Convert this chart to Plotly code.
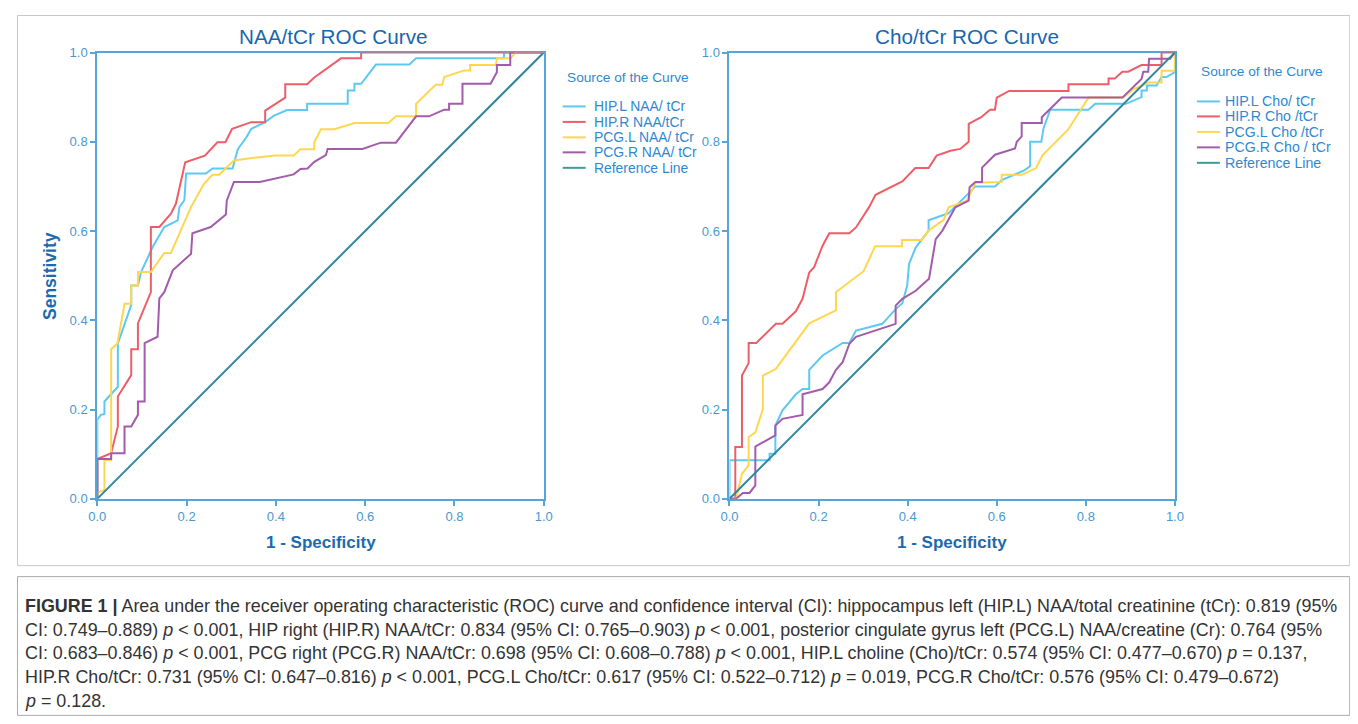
import plotly.graph_objects as go

W, H = 1358, 724
# observed page placement of the figure in the photographed window (affine): screen = S*fig + B
SX, BX = 0.988, 15.6
SY, BY = 0.981, 14.4

# ---------------- data (1 - specificity, sensitivity) ----------------
naa_names = ["HIP.L NAA/ tCr", "HIP.R NAA/tCr", "PCG.L NAA/ tCr", "PCG.R NAA/ tCr"]
cho_names = ["HIP.L Cho/ tCr", "HIP.R Cho /tCr", "PCG.L Cho /tCr", "PCG.R Cho / tCr"]

naa_hipl_x = [0, 0, 0.008, 0.016, 0.016, 0.046, 0.046, 0.076, 0.076, 0.091, 0.098, 0.124, 0.150, 0.180, 0.184, 0.195, 0.199, 0.243, 0.258, 0.303, 0.315, 0.334, 0.345, 0.376, 0.395, 0.425, 0.470, 0.470, 0.561, 0.561, 0.576, 0.576, 0.591, 0.613, 0.624, 0.699, 0.714, 0.911, 0.911, 1.0]
naa_hipl_y = [0, 0.177, 0.188, 0.190, 0.218, 0.251, 0.348, 0.434, 0.478, 0.478, 0.508, 0.564, 0.609, 0.624, 0.654, 0.669, 0.729, 0.729, 0.740, 0.740, 0.784, 0.810, 0.829, 0.844, 0.858, 0.871, 0.871, 0.885, 0.885, 0.915, 0.915, 0.930, 0.930, 0.960, 0.973, 0.973, 0.987, 0.987, 1.0, 1.0]

naa_hipr_x = [0, 0, 0.031, 0.046, 0.046, 0.076, 0.076, 0.091, 0.091, 0.120, 0.120, 0.139, 0.165, 0.176, 0.197, 0.241, 0.269, 0.287, 0.302, 0.345, 0.376, 0.376, 0.421, 0.421, 0.470, 0.486, 0.546, 0.591, 0.591, 1.0]
naa_hipr_y = [0, 0.089, 0.102, 0.162, 0.229, 0.277, 0.335, 0.335, 0.393, 0.463, 0.609, 0.609, 0.639, 0.661, 0.754, 0.769, 0.799, 0.799, 0.829, 0.844, 0.844, 0.870, 0.899, 0.929, 0.929, 0.944, 0.987, 0.987, 1.0, 1.0]

naa_pcgl_x = [0, 0, 0.016, 0.016, 0.031, 0.031, 0.045, 0.061, 0.076, 0.076, 0.091, 0.091, 0.120, 0.150, 0.165, 0.210, 0.239, 0.258, 0.273, 0.306, 0.358, 0.399, 0.440, 0.455, 0.486, 0.486, 0.501, 0.531, 0.576, 0.652, 0.669, 0.714, 0.714, 0.758, 0.773, 0.777, 0.822, 0.835, 0.835, 0.893, 0.895, 0.926, 0.937, 1.0]
naa_pcgl_y = [0, 0.013, 0.020, 0.087, 0.087, 0.335, 0.348, 0.437, 0.437, 0.478, 0.478, 0.508, 0.508, 0.551, 0.551, 0.654, 0.706, 0.726, 0.726, 0.758, 0.765, 0.769, 0.769, 0.783, 0.783, 0.799, 0.828, 0.828, 0.842, 0.842, 0.857, 0.857, 0.885, 0.928, 0.928, 0.945, 0.960, 0.960, 0.972, 0.972, 0.987, 0.987, 1.0, 1.0]

naa_pcgr_x = [0, 0, 0.031, 0.031, 0.061, 0.061, 0.076, 0.091, 0.091, 0.106, 0.106, 0.135, 0.139, 0.150, 0.169, 0.210, 0.213, 0.254, 0.288, 0.290, 0.306, 0.364, 0.440, 0.455, 0.471, 0.486, 0.512, 0.516, 0.594, 0.635, 0.669, 0.680, 0.714, 0.743, 0.777, 0.788, 0.788, 0.818, 0.818, 0.881, 0.895, 0.895, 0.925, 0.925, 1.0]
naa_pcgr_y = [0, 0.089, 0.089, 0.102, 0.102, 0.162, 0.162, 0.188, 0.218, 0.218, 0.349, 0.363, 0.449, 0.463, 0.512, 0.549, 0.595, 0.609, 0.637, 0.668, 0.710, 0.710, 0.727, 0.739, 0.740, 0.755, 0.770, 0.784, 0.784, 0.798, 0.798, 0.813, 0.857, 0.857, 0.872, 0.872, 0.885, 0.885, 0.930, 0.930, 0.956, 0.972, 0.972, 1.0, 1.0]

cho_hipl_x = [0, 0, 0.090, 0.090, 0.103, 0.103, 0.119, 0.149, 0.164, 0.179, 0.179, 0.209, 0.254, 0.269, 0.284, 0.343, 0.373, 0.388, 0.399, 0.403, 0.418, 0.447, 0.447, 0.492, 0.552, 0.596, 0.611, 0.660, 0.675, 0.675, 0.700, 0.705, 0.720, 0.806, 0.821, 0.890, 0.925, 0.925, 0.937, 0.937, 0.959, 0.970, 0.981, 1.0, 1.0]
cho_hipl_y = [0, 0.086, 0.086, 0.101, 0.101, 0.164, 0.198, 0.234, 0.246, 0.246, 0.289, 0.321, 0.349, 0.349, 0.377, 0.392, 0.425, 0.438, 0.478, 0.526, 0.563, 0.601, 0.624, 0.640, 0.700, 0.700, 0.714, 0.735, 0.745, 0.800, 0.800, 0.830, 0.872, 0.872, 0.885, 0.885, 0.900, 0.915, 0.915, 0.926, 0.926, 0.945, 0.945, 0.956, 1.0]

cho_hipr_x = [0, 0.013, 0.013, 0.028, 0.028, 0.043, 0.043, 0.060, 0.104, 0.119, 0.149, 0.164, 0.179, 0.190, 0.209, 0.224, 0.269, 0.284, 0.313, 0.328, 0.388, 0.417, 0.447, 0.465, 0.496, 0.518, 0.537, 0.537, 0.565, 0.585, 0.596, 0.600, 0.628, 0.761, 0.761, 0.851, 0.851, 0.865, 0.882, 0.895, 0.925, 0.970, 0.970, 1.0]
cho_hipr_y = [0, 0, 0.116, 0.116, 0.276, 0.304, 0.349, 0.349, 0.392, 0.392, 0.420, 0.448, 0.507, 0.519, 0.567, 0.595, 0.595, 0.608, 0.653, 0.681, 0.711, 0.741, 0.741, 0.769, 0.780, 0.784, 0.800, 0.840, 0.855, 0.872, 0.872, 0.899, 0.914, 0.914, 0.929, 0.929, 0.942, 0.942, 0.957, 0.957, 0.972, 0.972, 1.0, 1.0]

cho_pcgl_x = [0, 0.015, 0.028, 0.043, 0.043, 0.058, 0.075, 0.075, 0.104, 0.179, 0.239, 0.239, 0.301, 0.327, 0.387, 0.387, 0.432, 0.447, 0.481, 0.492, 0.533, 0.552, 0.611, 0.611, 0.656, 0.688, 0.703, 0.731, 0.760, 0.785, 0.806, 0.884, 0.907, 0.925, 0.940, 0.970, 0.970, 1.0, 1.0]
cho_pcgl_y = [0, 0, 0.056, 0.075, 0.138, 0.149, 0.201, 0.276, 0.291, 0.393, 0.422, 0.463, 0.510, 0.566, 0.566, 0.580, 0.580, 0.601, 0.625, 0.653, 0.668, 0.708, 0.710, 0.726, 0.726, 0.741, 0.770, 0.799, 0.827, 0.866, 0.899, 0.899, 0.918, 0.925, 0.933, 0.933, 0.959, 0.959, 1.0]

cho_pcgr_x = [0, 0.015, 0.030, 0.045, 0.058, 0.058, 0.103, 0.103, 0.119, 0.164, 0.164, 0.209, 0.224, 0.239, 0.254, 0.269, 0.284, 0.373, 0.373, 0.388, 0.418, 0.448, 0.463, 0.478, 0.507, 0.537, 0.539, 0.552, 0.567, 0.567, 0.596, 0.641, 0.645, 0.656, 0.656, 0.701, 0.701, 0.720, 0.746, 0.882, 0.925, 0.929, 0.940, 0.942, 0.989, 1.0]
cho_pcgr_y = [0, 0, 0.013, 0.013, 0.030, 0.117, 0.142, 0.164, 0.179, 0.188, 0.234, 0.246, 0.261, 0.289, 0.306, 0.347, 0.363, 0.392, 0.433, 0.448, 0.466, 0.493, 0.582, 0.601, 0.653, 0.668, 0.698, 0.710, 0.710, 0.742, 0.771, 0.785, 0.800, 0.812, 0.842, 0.842, 0.855, 0.873, 0.899, 0.899, 0.941, 0.957, 0.957, 0.986, 0.986, 1.0]

ref_x = [0, 1]
ref_y = [0, 1]

tick_vals = [0, 0.2, 0.4, 0.6, 0.8, 1.0]
tick_text = ["0.0", "0.2", "0.4", "0.6", "0.8", "1.0"]

caption_lines = [
    "<b>FIGURE 1 |</b> Area under the receiver operating characteristic (ROC) curve and confidence interval (CI): hippocampus left (HIP.L) NAA/total creatinine (tCr): 0.819 (95%",
    "CI: 0.749–0.889) <i>p</i> &lt; 0.001, HIP right (HIP.R) NAA/tCr: 0.834 (95% CI: 0.765–0.903) <i>p</i> &lt; 0.001, posterior cingulate gyrus left (PCG.L) NAA/creatine (Cr): 0.764 (95%",
    "CI: 0.683–0.846) <i>p</i> &lt; 0.001, PCG right (PCG.R) NAA/tCr: 0.698 (95% CI: 0.608–0.788) <i>p</i> &lt; 0.001, HIP.L choline (Cho)/tCr: 0.574 (95% CI: 0.477–0.670) <i>p</i> = 0.137,",
    "HIP.R Cho/tCr: 0.731 (95% CI: 0.647–0.816) <i>p</i> &lt; 0.001, PCG.L Cho/tCr: 0.617 (95% CI: 0.522–0.712) <i>p</i> = 0.019, PCG.R Cho/tCr: 0.576 (95% CI: 0.479–0.672)",
    "<i>p</i> = 0.128.",
]

# ---------------- styles ----------------
colors = ["#5CC9F2", "#EE5E69", "#FFD64F", "#A35CAB"]
ref_color = "#2F86A0"
axis_color = "#55A5D8"
tick_color = "#4A98CF"
title_color = "#1766B0"
legend_color = "#2F88D2"
axis_title_color = "#1C6AAE"
font_main = "Liberation Sans, Arial, sans-serif"


def px(x):
    return max(0.0, (x - BX) / SX) / W


def py(y):
    return 1 - max(0.0, (y - BY) / SY) / H


fig = go.Figure()

naa_series = [(naa_hipl_x, naa_hipl_y), (naa_hipr_x, naa_hipr_y), (naa_pcgl_x, naa_pcgl_y), (naa_pcgr_x, naa_pcgr_y)]
cho_series = [(cho_hipl_x, cho_hipl_y), (cho_hipr_x, cho_hipr_y), (cho_pcgl_x, cho_pcgl_y), (cho_pcgr_x, cho_pcgr_y)]

for (sx, sy), name, c in zip(naa_series, naa_names, colors):
    fig.add_trace(go.Scatter(x=sx, y=sy, mode="lines", name=name, showlegend=False,
                             line=dict(color=c, width=2), xaxis="x", yaxis="y"))
fig.add_trace(go.Scatter(x=ref_x, y=ref_y, mode="lines", name="Reference Line", showlegend=False,
                         line=dict(color=ref_color, width=2), xaxis="x", yaxis="y"))
for (sx, sy), name, c in zip(cho_series, cho_names, colors):
    fig.add_trace(go.Scatter(x=sx, y=sy, mode="lines", name=name, showlegend=False,
                             line=dict(color=c, width=2), xaxis="x2", yaxis="y2"))
fig.add_trace(go.Scatter(x=ref_x, y=ref_y, mode="lines", name="Reference Line", showlegend=False,
                         line=dict(color=ref_color, width=2), xaxis="x2", yaxis="y2"))

axis_common = dict(range=[0, 1], showgrid=False, zeroline=False, showline=True, mirror=True,
                   linecolor=axis_color, linewidth=2, ticks="outside", ticklen=5, tickwidth=1.5,
                   tickcolor=axis_color, tickvals=tick_vals, ticktext=tick_text,
                   tickfont=dict(family=font_main, size=13, color=tick_color), layer="below traces")

xl0, xl1 = 96, 543
xr0, xr1 = 729, 1175
yt, yb = 52, 499

fig.update_layout(
    width=W, height=H, autosize=False,
    margin=dict(l=0, r=0, t=0, b=0),
    paper_bgcolor="white", plot_bgcolor="white",
    showlegend=False,
    xaxis=dict(axis_common, domain=[px(xl0), px(xl1)], anchor="y"),
    yaxis=dict(axis_common, domain=[py(yb), py(yt)], anchor="x"),
    xaxis2=dict(axis_common, domain=[px(xr0), px(xr1)], anchor="y2"),
    yaxis2=dict(axis_common, domain=[py(yb), py(yt)], anchor="x2"),
)

ann = []
# chart titles
ann.append(dict(text="NAA/tCr ROC Curve", x=px(333), y=py(36), xref="paper", yref="paper",
                showarrow=False, xanchor="center", yanchor="middle",
                font=dict(family=font_main, size=20.7, color=title_color)))
ann.append(dict(text="Cho/tCr ROC Curve", x=px(967), y=py(36), xref="paper", yref="paper",
                showarrow=False, xanchor="center", yanchor="middle",
                font=dict(family=font_main, size=20.7, color=title_color)))
# axis titles
for cx in [(xl0 + xl1) / 2, (xr0 + xr1) / 2]:
    ann.append(dict(text="<b>1 - Specificity</b>", x=px(cx), y=py(543), xref="paper", yref="paper",
                    showarrow=False, xanchor="center", yanchor="middle",
                    font=dict(family=font_main, size=17, color=axis_title_color)))
ann.append(dict(text="<b>Sensitivity</b>", x=px(48), y=py((yt + yb) / 2), xref="paper", yref="paper",
                showarrow=False, xanchor="center", yanchor="middle", textangle=-90,
                font=dict(family=font_main, size=17.5, color=axis_title_color)))

shapes = []


def add_legend(x_line0, x_text, y_title, y_items, names, item_size):
    ann.append(dict(text="Source of the Curve", x=px(x_line0 + 2), y=py(y_title), xref="paper", yref="paper",
                    showarrow=False, xanchor="left", yanchor="middle",
                    font=dict(family=font_main, size=13.7, color=legend_color)))
    for yy, name, c in zip(y_items, names + ["Reference Line"], colors + ["#3E9C97"]):
        shapes.append(dict(type="line", xref="paper", yref="paper", x0=px(x_line0), x1=px(x_line0 + 23),
                           y0=py(yy), y1=py(yy), line=dict(color=c, width=2)))
        ann.append(dict(text=name, x=px(x_text), y=py(yy), xref="paper", yref="paper",
                        showarrow=False, xanchor="left", yanchor="middle",
                        font=dict(family=font_main, size=item_size, color=legend_color)))


add_legend(562, 591, 77, [106, 121.5, 137, 152, 167.5], naa_names, 13.9)
add_legend(1197, 1223, 71, [101, 116, 131.5, 147, 162.5], cho_names, 14.2)

# caption
for i, line in enumerate(caption_lines):
    ann.append(dict(text=line, x=px(22), y=py(606 + 24 * i), xref="paper", yref="paper",
                    showarrow=False, xanchor="left", yanchor="middle",
                    font=dict(family=font_main, size=17.9, color="#333333")))

# frames
shapes.append(dict(type="rect", xref="paper", yref="paper", x0=0.5 / W, x1=px(1350), y0=py(566), y1=1 - 0.5 / H,
                   line=dict(color="#C8C8C8", width=1), layer="below"))
shapes.append(dict(type="rect", xref="paper", yref="paper", x0=0.5 / W, x1=px(1350), y0=py(716), y1=py(577),
                   line=dict(color="#AAAAAA", width=1), layer="below"))

fig.update_layout(annotations=ann, shapes=shapes)

fig.write_html("out.html")
